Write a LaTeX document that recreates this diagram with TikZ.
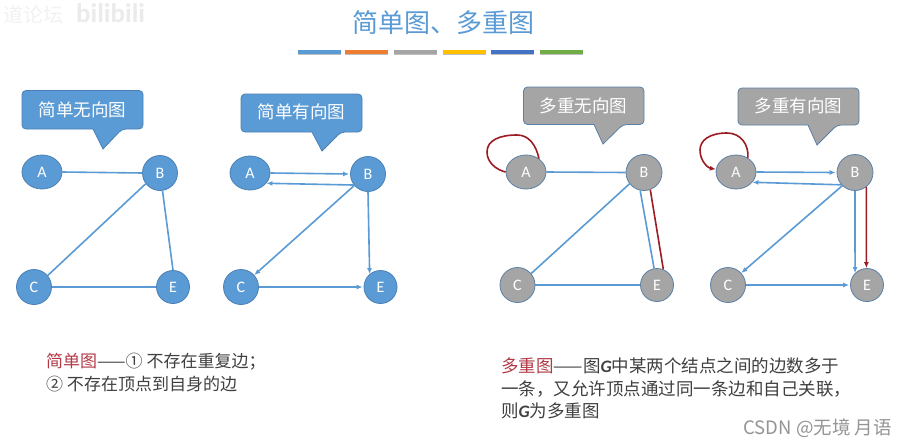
\documentclass[tikz,border=0pt]{standalone}
\usepackage{fontspec}
\setmainfont{Carlito}
\newfontfamily\cjk{Noto Sans CJK SC}
\usetikzlibrary{shapes.geometric,arrows.meta}
\definecolor{mblue}{HTML}{5B9BD5}
\definecolor{mgray}{HTML}{A5A5A5}
\definecolor{mred}{HTML}{9C1C24}
\definecolor{tred}{HTML}{B23A48}
\definecolor{bord}{HTML}{4A80B5}
\definecolor{txt}{HTML}{404040}
\definecolor{baro}{HTML}{ED7D31}
\definecolor{bary}{HTML}{FFC000}
\definecolor{barb}{HTML}{4472C4}
\definecolor{barg}{HTML}{70AD47}
\tikzset{
  vblue/.style={draw=bord,line width=.8pt,fill=mblue,text=white,inner sep=0pt,font=\fontsize{16}{16}\selectfont},
  vgray/.style={draw=bord!70!gray,line width=.8pt,fill=mgray,text=white,inner sep=0pt,font=\fontsize{16}{16}\selectfont},
  round/.style={circle,minimum size=#1},
  oval/.style={ellipse,minimum width=40pt,minimum height=34pt},
  edge/.style={draw=mblue,line width=1.6pt},
  aedge/.style={edge,-{Latex[length=6pt,width=5pt]}},
  redge/.style={draw=mred,line width=1.6pt},
  raedge/.style={redge,-{Latex[length=6pt,width=5pt]}},
  call/.style={rounded corners=4pt,line width=.8pt},
  calltext/.style={text=white,inner sep=0pt,font=\cjk\fontsize{17.5}{17.5}\selectfont},
  bar/.style={line width=4pt},
  barshadow/.style={line width=2pt,draw=black!25},
  para/.style={anchor=west,inner sep=0pt,text=txt,font=\cjk},
}
\begin{document}
\begin{tikzpicture}[x=1pt,y=-1pt]
\useasboundingbox (0,0) rectangle (907,447);
\fill[white] (0,0) rectangle (907,447);
% watermark
\node[text=black!5,inner sep=0pt,anchor=west,font=\cjk\fontsize{20}{20}\selectfont] (wm0) at (3,15) {道论坛};
\node[text=black!8,inner sep=0pt,anchor=west,font=\bfseries\fontsize{27}{27}\selectfont] (wm) at (76,13) {bilibili};
% title
\node[text=mblue,inner sep=0pt,font=\cjk\fontsize{26}{26}\selectfont] (title) at (443.5,23) {简单图、多重图};
% bars
\foreach \a/\b/\c in {298/341/mblue,345/388/baro,394/437/mgray,443/486/bary,491/534/barb,540/583/barg}{
  \draw[barshadow] (\a,54) -- (\b,54);
  \draw[bar,draw=\c] (\a,51.5) -- (\b,51.5);
}
% callouts
\filldraw[call,fill=mblue,draw=bord] (22,90.5) -- (143,90.5) -- (143,129) -- (122,129) [sharp corners] -- (103,149) -- (93,129) [rounded corners=4pt] -- (22,129) -- cycle;
\node[calltext] (c1) at (82.5,109.5) {简单无向图};
\filldraw[call,fill=mblue,draw=bord] (241,94) -- (362,94) -- (362,132) -- (341,132) [sharp corners] -- (322,151) -- (312,132) [rounded corners=4pt] -- (241,132) -- cycle;
\node[calltext] (c2) at (301.5,112) {简单有向图};
\filldraw[call,fill=mgray,draw=bord!70!gray] (523.5,87) -- (644,87) -- (644,124.5) -- (623,124.5) [sharp corners] -- (603,144) -- (594,124.5) [rounded corners=4pt] -- (523.5,124.5) -- cycle;
\node[calltext] (c3) at (583.5,105.5) {多重无向图};
\filldraw[call,fill=mgray,draw=bord!70!gray] (738,88) -- (859,88) -- (859,125) -- (837,125) [sharp corners] -- (817,145) -- (808,125) [rounded corners=4pt] -- (738,125) -- cycle;
\node[calltext] (c4) at (798.5,106) {多重有向图};
% graph 1
\node[vblue,oval] (A1) at (42,172) {A};
\node[vblue,round=35pt] (B1) at (160,173) {B};
\node[vblue,round=35pt] (C1) at (34,287) {C};
\node[vblue,round=33pt] (E1) at (173,287) {E};
\draw[edge] (A1.east) -- (B1.west);
\draw[edge] (B1.217) -- (C1.40);
\draw[edge] (B1.278) -- (E1.90);
\draw[edge] (C1.east) -- (E1.west);
% graph 2
\node[vblue,oval] (A2) at (250,173) {A};
\node[vblue,round=35pt] (B2) at (368,174) {B};
\node[vblue,round=35pt] (C2) at (241,287) {C};
\node[vblue,round=33pt] (E2) at (380.5,287) {E};
\draw[aedge] (A2.east) -- ([xshift=-1pt]B2.west);
\draw[aedge] (B2.218) -- (A2.-32);
\draw[aedge] (B2.220) -- (C2.42);
\draw[aedge] (B2.270) -- (E2.130);
\draw[aedge] (C2.east) -- ([xshift=-1pt]E2.west);
% graph 3
\node[vgray,oval] (A3) at (526,172) {A};
\node[vgray,round=36pt] (B3) at (644,172.5) {B};
\node[vgray,round=35pt] (C3) at (517.5,285) {C};
\node[vgray,round=33pt] (E3) at (657,285) {E};
\draw[edge] (A3.east) -- (B3.west);
\draw[edge] (B3.218) -- (C3.40);
\draw[edge] (B3.258) -- (E3.100);
\draw[redge] (B3.-70) -- (E3.68);
\draw[edge] (C3.east) -- (E3.west);
\draw[redge] (A3.46) .. controls (536,145) and (529,135) .. (517,135) .. controls (500,135) and (487,140) .. (487,152) .. controls (487,163) and (497,170) .. (A3.west);
% graph 4
\node[vgray,oval] (A4) at (736,172) {A};
\node[vgray,round=36pt] (B4) at (855,172.5) {B};
\node[vgray,round=35pt] (C4) at (728,285) {C};
\node[vgray,round=33pt] (E4) at (867,285) {E};
\draw[aedge] (A4.east) -- ([xshift=-1pt]B4.west);
\draw[aedge] (B4.222) -- (A4.-32);
\draw[aedge] (B4.226) -- (C4.42);
\draw[aedge] (B4.270) -- (E4.135);
\draw[raedge] (B4.-52) -- (E4.92);
\draw[aedge] (C4.east) -- ([xshift=-1pt]E4.west);
\draw[raedge] (A4.50) .. controls (749,145) and (741,133) .. (727,133) .. controls (710,133) and (700,140) .. (700,150) .. controls (700,161) and (708,168) .. (A4.172);
% texts
\node[para,font=\cjk\fontsize{17}{17}\selectfont] (t1) at (46,362) {\textcolor{tred}{简单图}——① 不存在重复边；};
\node[para,font=\cjk\fontsize{17}{17}\selectfont] (t2) at (46,384) {② 不存在顶点到自身的边};
\node[para,font=\cjk\fontsize{17.5}{17.5}\selectfont] (t3) at (501,366) {\textcolor{tred}{多重图}——图{\fontspec{Carlito}\bfseries\itshape G}中某两个结点之间的边数多于};
\node[para,font=\cjk\fontsize{17.5}{17.5}\selectfont] (t4) at (501,389) {一条，又允许顶点通过同一条边和自己关联，};
\node[para,font=\cjk\fontsize{17.5}{17.5}\selectfont] (t5) at (501,411) {则{\fontspec{Carlito}\bfseries\itshape G}为多重图};
\node[inner sep=0pt,anchor=east,text=black!42,font=\cjk\fontsize{18.5}{18.5}\selectfont] (wm2) at (892,428) {CSDN @无境 月语};
\end{tikzpicture}
\end{document}
